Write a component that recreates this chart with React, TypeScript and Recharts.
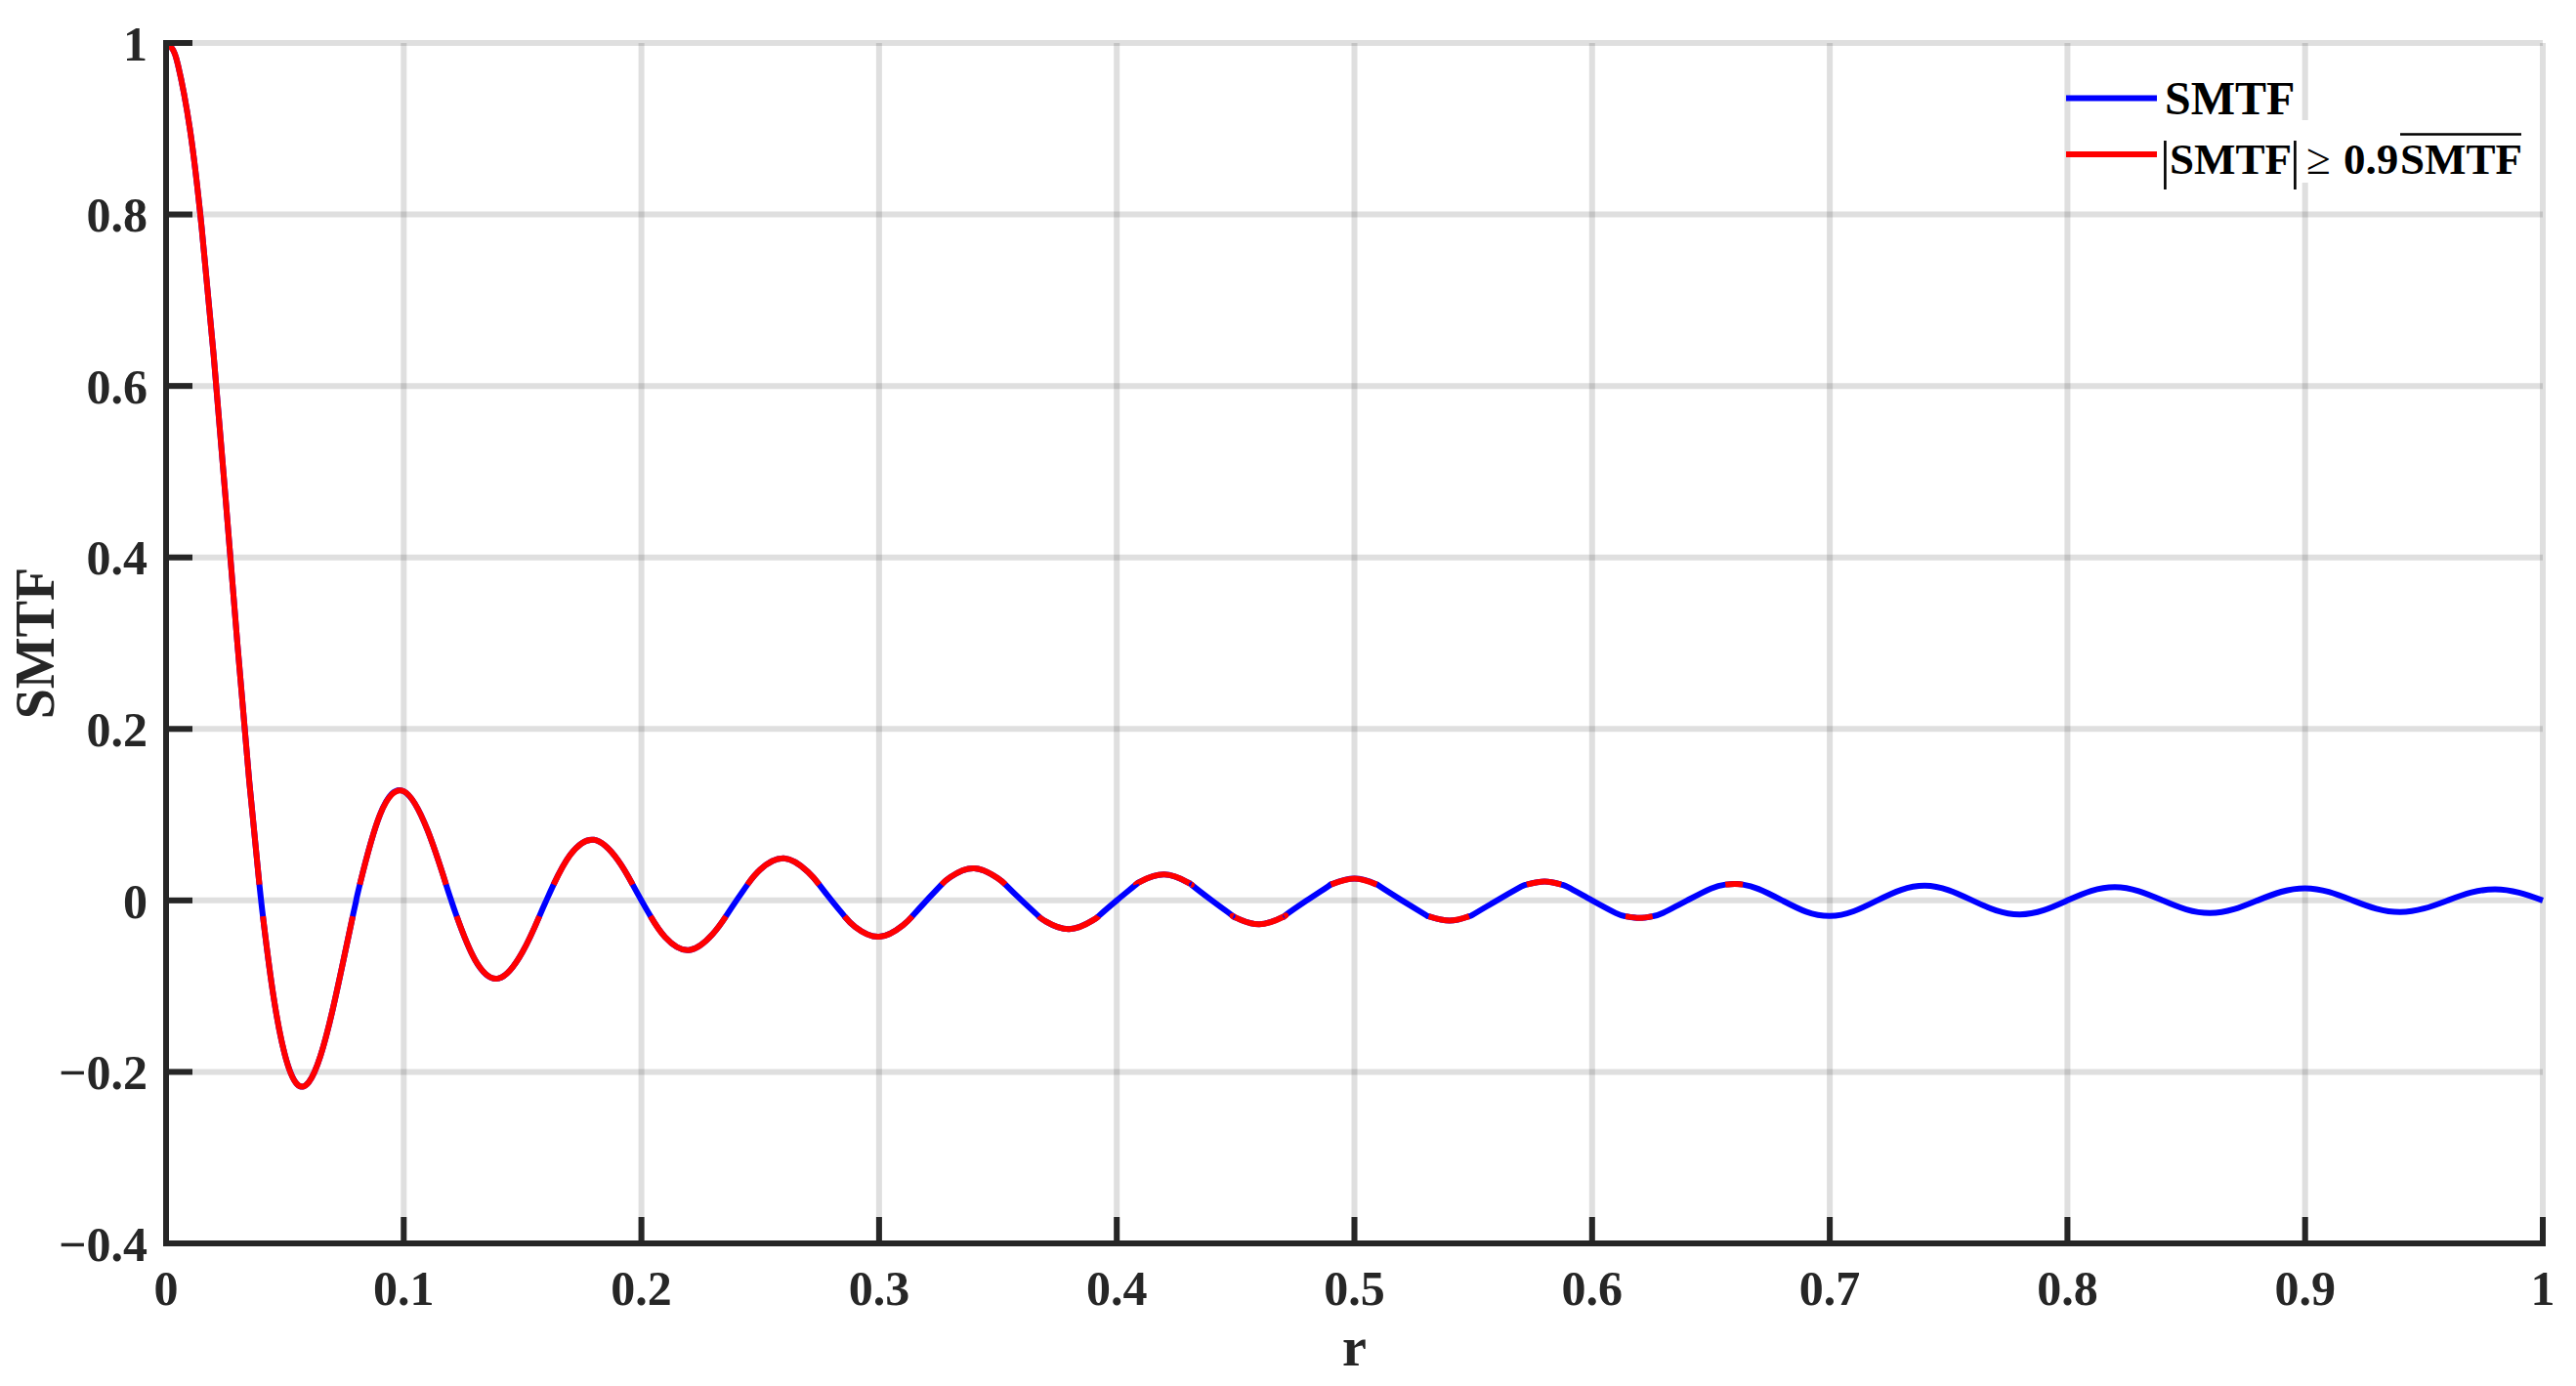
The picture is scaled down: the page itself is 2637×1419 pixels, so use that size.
import { LineChart, Line, XAxis, YAxis, CartesianGrid, Legend } from "recharts";

/* ─── Values ─── */

// r positions of the samples (denser inside the main lobe)
const R_SAMPLES = [
  0, 0.0025, 0.005, 0.01, 0.015, 0.02, 0.025, 0.03, 0.035, 0.04, 0.045, 0.05, 0.055, 0.06, 0.065, 0.07,
  0.075, 0.08, 0.09, 0.1, 0.11, 0.12, 0.13, 0.14, 0.15, 0.16, 0.17, 0.18, 0.19, 0.2, 0.21, 0.22, 0.23,
  0.24, 0.25, 0.26, 0.27, 0.28, 0.29, 0.3, 0.31, 0.32, 0.33, 0.34, 0.35, 0.36, 0.37, 0.38, 0.39, 0.4,
  0.41, 0.42, 0.43, 0.44, 0.45, 0.46, 0.47, 0.48, 0.49, 0.5, 0.51, 0.52, 0.53, 0.54, 0.55, 0.56, 0.57,
  0.58, 0.59, 0.6, 0.61, 0.62, 0.63, 0.64, 0.65, 0.66, 0.67, 0.68, 0.69, 0.7, 0.71, 0.72, 0.73, 0.74,
  0.75, 0.76, 0.77, 0.78, 0.79, 0.8, 0.81, 0.82, 0.83, 0.84, 0.85, 0.86, 0.87, 0.88, 0.89, 0.9, 0.91,
  0.92, 0.93, 0.94, 0.95, 0.96, 0.97, 0.98, 0.99, 1,
];

const SMTF_SAMPLES = [
  1, 0.9936, 0.9745, 0.9003, 0.7842, 0.6366, 0.4705, 0.3001, 0.1392, 0, -0.1083, -0.1801, -0.2139,
  -0.2122, -0.181, -0.1286, -0.065, 0, 0.1, 0.1273, 0.0819, 0, -0.0693, -0.0909, -0.06, 0, 0.053,
  0.0707, 0.0474, 0, -0.0429, -0.0579, -0.0391, 0, 0.036, 0.049, 0.0334, 0, -0.0311, -0.0424, -0.029,
  0, 0.0273, 0.0375, 0.0257, 0, -0.0243, -0.0335, -0.0231, 0, 0.022, 0.0303, 0.0209, 0, -0.02, -0.0277,
  -0.0192, 0, 0.0184, 0.0255, 0.0177, 0, -0.017, -0.0236, -0.0164, 0, 0.0158, 0.022, 0.0153, 0,
  -0.0148, -0.0205, -0.0143, 0, 0.0139, 0.0193, 0.0134, 0, -0.0131, -0.0182, -0.0127, 0, 0.0123,
  0.0172, 0.012, 0, -0.0117, -0.0163, -0.0114, 0, 0.0111, 0.0155, 0.0108, 0, -0.0106, -0.0148,
  -0.0104, 0, 0.0101, 0.0142, 0.0099, 0, -0.0097, -0.0136, -0.0095, 0, 0.0093, 0.013, 0.0091, 0,
];

// where the curve passes ±threshold (ends of the red stretches)
const EDGE_R = [
  0.03927, 0.04075, 0.07854, 0.08151, 0.11781, 0.12227, 0.15707, 0.16304, 0.19632, 0.20383, 0.23555,
  0.24463, 0.27478, 0.28545, 0.31397, 0.32629, 0.35314, 0.36716, 0.39228, 0.40809, 0.43137, 0.44905,
  0.47041, 0.49009, 0.5094, 0.53123, 0.54825, 0.57251, 0.58699, 0.61403, 0.62545, 0.65609, 0.66342,
];

const EDGE_SMTF = [
  0.0185, -0.0185, -0.0185, 0.0185, 0.0185, -0.0185, -0.0185, 0.0185, 0.0185, -0.0185, -0.0185,
  0.0185, 0.0185, -0.0185, -0.0185, 0.0185, 0.0185, -0.0185, -0.0185, 0.0185, 0.0185, -0.0185,
  -0.0185, 0.0185, 0.0185, -0.0185, -0.0185, 0.0185, 0.0185, -0.0185, -0.0185, 0.0185, 0.0185,
];

// 0.9 × mean |SMTF|, as it shows in the picture
const THRESHOLD = 0.0185;

const X_TICKS = [0, 0.1, 0.2, 0.3, 0.4, 0.5, 0.6, 0.7, 0.8, 0.9, 1];
const Y_TICKS = [-0.4, -0.2, 0, 0.2, 0.4, 0.6, 0.8, 1];

/* ─── Styling ─── */

const W = 2637;
const H = 1419;
const INK = "#262626";
const BLUE = "#0000ff";
const RED = "#ff0000";
const SERIF = '"Liberation Serif", "Times New Roman", serif';

interface Point {
  r: number;
  smtf: number;
  red: number | null;
}

const data: Point[] = [
  ...R_SAMPLES.map((r, i) => ({ r, smtf: SMTF_SAMPLES[i] })),
  ...EDGE_R.map((r, i) => ({ r, smtf: EDGE_SMTF[i] })),
]
  .sort((a, b) => a.r - b.r)
  .map((p) => ({ ...p, red: Math.abs(p.smtf) >= THRESHOLD - 1e-9 ? p.smtf : null }));

const fmtTick = (v: number) => (v < 0 ? `\u2212${Math.abs(v)}` : `${v}`);

const tickStyle = { fill: INK, fontSize: 50, fontWeight: 700, fontFamily: SERIF };

/* legend drawn by hand: the second entry carries a formula with an overline */
function LegendBox() {
  return (
    <svg width={520} height={150} style={{ display: "block" }}>
      <line x1={15} x2={108} y1={40.5} y2={40.5} stroke={BLUE} strokeWidth={6} />
      <text x={116} y={57} fontFamily={SERIF} fontWeight={700} fontSize={48} fill="#000">
        SMTF
      </text>

      <rect x={111} y={63} width={381} height={64} fill="#fff" />
      <line x1={15} x2={108} y1={98} y2={98} stroke={RED} strokeWidth={6} />
      <g fontFamily={SERIF} fill="#000">
        <text x={111} y={122} fontSize={54}>|</text>
        <text x={121} y={118} fontSize={45} fontWeight={700}>SMTF</text>
        <text x={244} y={122} fontSize={54}>|</text>
        <text x={261} y={118} fontSize={45}>≥</text>
        <text x={299} y={118} fontSize={45} fontWeight={700}>0.9</text>
        <text x={357} y={118} fontSize={45} fontWeight={700}>SMTF</text>
      </g>
      <line x1={357} x2={481} y1={77.5} y2={77.5} stroke="#000" strokeWidth={2.7} />
    </svg>
  );
}

export default function App() {
  return (
    <div style={{ position: "absolute", left: 0, top: 0, width: W, height: H, background: "#fff" }}>
      <LineChart width={W} height={H} data={data} margin={{ top: 44, right: 34, bottom: 0, left: 0 }}>
        <CartesianGrid stroke={INK} strokeOpacity={0.15} strokeWidth={6} />
        <XAxis
          dataKey="r"
          type="number"
          domain={[0, 1]}
          ticks={X_TICKS}
          interval={0}
          height={146}
          tickFormatter={fmtTick}
          tick={tickStyle}
          tickSize={-27}
          tickMargin={54}
          tickLine={{ stroke: INK, strokeWidth: 6 }}
          axisLine={{ stroke: INK, strokeWidth: 6, strokeLinecap: "square" }}
          label={{
            value: "r",
            position: "insideBottom",
            offset: 21,
            fill: INK,
            fontSize: 56,
            fontWeight: 700,
            fontFamily: SERIF,
          }}
        />
        <YAxis
          type="number"
          domain={[-0.4, 1]}
          ticks={Y_TICKS}
          interval={0}
          width={170}
          tickFormatter={fmtTick}
          tick={tickStyle}
          tickSize={-27}
          tickMargin={46}
          tickLine={{ stroke: INK, strokeWidth: 6 }}
          axisLine={{ stroke: INK, strokeWidth: 6, strokeLinecap: "square" }}
          label={{
            value: "SMTF",
            angle: -90,
            position: "insideLeft",
            offset: 35,
            fill: INK,
            fontSize: 56,
            fontWeight: 700,
            fontFamily: SERIF,
            style: { textAnchor: "middle" },
          }}
        />
        <Legend
          layout="horizontal"
          align="center"
          verticalAlign="middle"
          wrapperStyle={{ position: "absolute", left: 2100, top: 60, width: 520, height: 150 }}
          content={() => <LegendBox />}
        />
        {/* full curve */}
        <Line
          name="SMTF"
          type="natural"
          dataKey="smtf"
          stroke={BLUE}
          strokeWidth={6}
          dot={false}
          activeDot={false}
          isAnimationActive={false}
        />
        {/* stretches where |SMTF| reaches the threshold */}
        <Line
          name="|SMTF| ≥ 0.9 mean"
          type="natural"
          dataKey="red"
          stroke={RED}
          strokeWidth={6}
          dot={false}
          activeDot={false}
          connectNulls={false}
          isAnimationActive={false}
        />
      </LineChart>
    </div>
  );
}
